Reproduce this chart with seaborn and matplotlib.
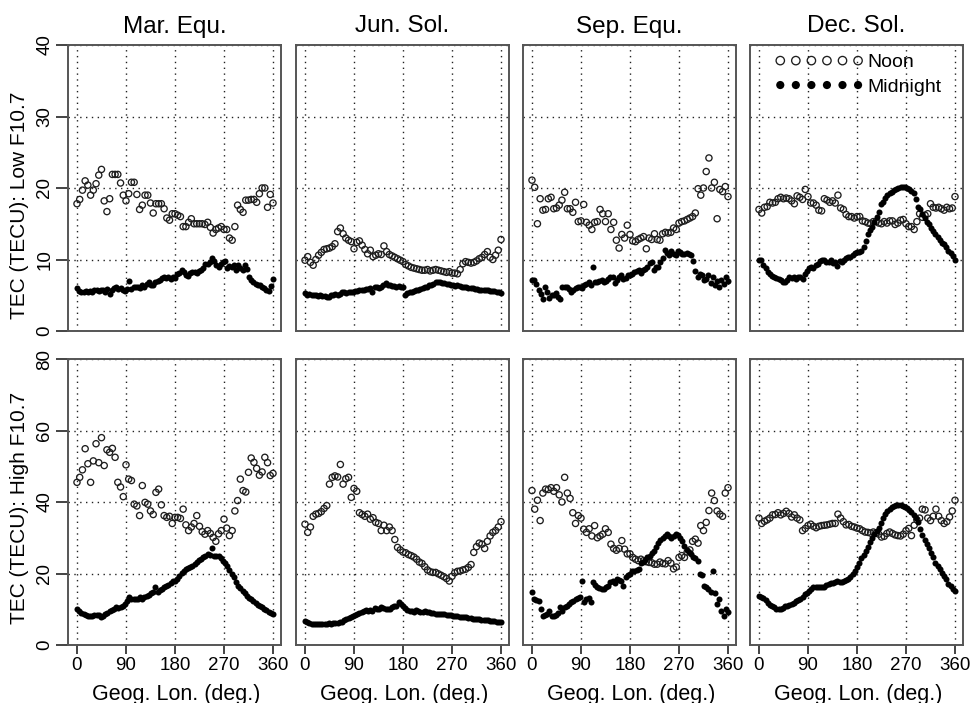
import numpy as np
import matplotlib
matplotlib.use("Agg")
import matplotlib.pyplot as plt
import seaborn as sns

# ─── DATA ────────────────────────────────────────────────────────────────────
# noon sampled every 5 deg, midnight every 4 deg of geographic longitude
NOON_LON = np.arange(0, 361, 5)
MID_LON = np.arange(0, 361, 4)

MAR_LOW_NOON = [17.8, 18.4, 19.7, 21.0, 20.4, 19.0, 19.7, 20.6, 21.8, 22.6,
                18.2, 16.7, 18.5, 21.9, 21.9, 21.9, 20.7, 19.0, 18.2, 19.2,
                20.8, 20.8, 19.1, 17.0, 17.6, 19.0, 19.0, 17.9, 16.5, 17.8,
                17.8, 17.8, 17.1, 15.8, 15.5, 16.4, 16.4, 16.2, 16.0, 14.6,
                14.6, 15.2, 15.7, 15.0, 15.0, 15.0, 15.0, 14.9, 15.2, 14.5,
                13.7, 14.2, 14.4, 14.6, 14.2, 14.2, 13.0, 12.7, 14.6, 17.6,
                17.0, 16.6, 18.3, 18.3, 18.4, 18.4, 18.0, 19.2, 20.0, 20.0,
                17.3, 19.1, 17.9]
MAR_LOW_MID = [6.0, 5.6, 5.5, 5.4, 5.6, 5.5, 5.6, 5.5, 5.7, 5.8,
               5.6, 5.8, 5.8, 5.5, 5.9, 5.2, 5.8, 6.0, 6.2, 5.9,
               6.0, 5.7, 5.6, 5.9, 7.0, 5.9, 6.2, 6.1, 6.2, 6.0,
               6.4, 6.2, 6.6, 6.9, 6.4, 6.5, 6.8, 7.0, 7.1, 7.4,
               7.5, 7.4, 7.6, 7.3, 7.6, 7.4, 8.0, 8.1, 8.5, 8.3,
               7.9, 7.7, 8.1, 8.2, 8.2, 8.1, 8.4, 8.6, 8.8, 9.4,
               9.4, 9.7, 10.2, 9.8, 9.3, 9.0, 9.4, 9.7, 9.8, 8.8,
               9.1, 9.0, 9.3, 8.6, 9.2, 8.8, 8.5, 9.3, 8.7, 7.6,
               7.1, 6.9, 6.6, 6.5, 6.4, 6.2, 6.0, 5.8, 5.6, 6.3,
               7.3]

JUN_LOW_NOON = [9.9, 10.4, 9.6, 9.2, 10.0, 10.6, 11.0, 11.4, 11.5, 11.6,
                11.8, 12.2, 13.9, 14.4, 13.6, 13.0, 12.7, 12.5, 11.5, 12.4,
                12.6, 12.0, 11.4, 10.8, 11.3, 10.4, 10.6, 10.8, 10.7, 11.9,
                11.1, 10.7, 10.5, 10.3, 10.1, 9.9, 9.7, 9.3, 9.1, 8.9,
                8.8, 8.7, 8.6, 8.5, 8.5, 8.6, 8.4, 8.5, 8.6, 8.5,
                8.4, 8.3, 8.2, 8.3, 8.1, 8.1, 8.0, 8.6, 9.4, 9.7,
                9.6, 9.5, 9.6, 9.8, 10.1, 10.3, 10.7, 11.1, 10.3, 10.0,
                10.6, 11.3, 12.8]
JUN_LOW_MID = [5.3, 5.1, 5.2, 5.0, 5.0, 5.0, 4.9, 5.0, 4.9, 4.9,
               4.7, 4.8, 5.0, 5.1, 5.2, 5.1, 5.2, 5.4, 5.4, 5.3,
               5.4, 5.5, 5.5, 5.6, 5.6, 5.7, 5.7, 5.8, 5.9, 5.9,
               6.0, 5.4, 6.1, 6.2, 6.0, 6.2, 6.5, 6.7, 6.5, 6.4,
               6.3, 6.3, 6.2, 6.3, 6.2, 6.1, 5.0, 5.3, 5.4, 5.5,
               5.6, 5.8, 5.8, 5.9, 6.0, 6.1, 6.2, 6.4, 6.5, 6.6,
               6.8, 6.9, 6.8, 6.7, 6.7, 6.6, 6.6, 6.5, 6.4, 6.3,
               6.4, 6.3, 6.2, 6.2, 6.1, 6.0, 6.0, 6.0, 5.9, 5.9,
               5.8, 5.8, 5.8, 5.7, 5.7, 5.6, 5.6, 5.6, 5.5, 5.4,
               5.3]

SEP_LOW_NOON = [21.1, 20.1, 15.0, 18.5, 16.9, 17.0, 18.5, 18.7, 17.1, 17.2,
                17.6, 18.3, 19.4, 17.1, 17.1, 16.6, 18.0, 15.3, 15.4, 17.7,
                15.2, 14.8, 14.2, 15.2, 15.3, 17.0, 16.4, 15.3, 16.4, 14.2,
                15.2, 12.7, 11.6, 13.5, 13.0, 14.8, 13.5, 12.6, 12.5, 12.8,
                13.0, 13.2, 11.5, 13.0, 12.8, 13.6, 12.8, 12.7, 13.6, 13.8,
                13.7, 13.8, 14.4, 14.2, 15.1, 15.3, 15.4, 15.6, 15.8, 16.0,
                16.5, 19.9, 19.0, 20.0, 22.3, 24.2, 20.0, 20.8, 15.7, 19.8,
                19.5, 20.2, 18.8]
SEP_LOW_MID = [7.2, 7.1, 6.6, 5.8, 5.2, 4.5, 6.1, 5.4, 4.6, 5.0,
               5.1, 5.3, 4.8, 4.5, 6.1, 6.2, 6.1, 5.9, 5.5, 5.8,
               6.0, 6.2, 6.1, 6.0, 6.4, 6.6, 6.9, 6.5, 8.9, 6.8,
               6.9, 7.0, 7.1, 6.8, 7.0, 7.3, 7.5, 7.6, 6.7, 7.2,
               7.5, 7.8, 7.3, 7.4, 7.8, 7.9, 8.0, 8.2, 8.4, 8.5,
               8.1, 8.6, 8.7, 9.0, 9.5, 9.6, 8.6, 8.9, 9.0, 9.6,
               10.2, 11.3, 10.9, 10.6, 11.2, 10.7, 10.6, 11.2, 11.0, 10.8,
               10.8, 10.9, 10.7, 10.6, 9.8, 8.4, 7.6, 8.0, 7.8, 7.1,
               7.3, 7.9, 6.7, 7.5, 6.4, 7.0, 6.2, 7.2, 6.6, 7.5,
               7.0]

DEC_LOW_NOON = [17.0, 16.5, 17.3, 17.4, 18.0, 17.9, 18.0, 18.5, 18.7, 18.5,
                18.6, 18.5, 18.2, 17.8, 18.9, 18.7, 18.4, 19.8, 18.8, 17.9,
                17.9, 17.6, 16.9, 16.8, 18.5, 18.3, 18.0, 18.2, 17.9, 19.0,
                17.2, 17.0, 16.3, 16.0, 16.0, 15.8, 16.0, 16.0, 15.4, 15.3,
                15.1, 15.0, 15.3, 15.3, 15.1, 15.0, 15.3, 15.1, 15.4, 15.4,
                14.9, 15.1, 15.5, 15.6, 15.0, 14.6, 14.6, 14.2, 15.3, 16.4,
                15.9, 16.2, 16.4, 17.8, 17.3, 17.2, 17.3, 17.1, 16.9, 17.3,
                17.1, 17.2, 18.8]
DEC_LOW_MID = [10.0, 9.9, 9.2, 8.8, 8.3, 8.0, 7.7, 7.5, 7.4, 7.3,
               7.1, 6.9, 6.8, 7.2, 7.5, 7.4, 7.5, 7.3, 7.6, 7.5,
               7.3, 8.0, 8.4, 8.8, 9.0, 8.8, 9.2, 9.4, 9.8, 9.9,
               9.9, 9.6, 9.7, 9.9, 9.5, 9.7, 9.1, 9.8, 9.7, 9.9,
               10.2, 10.3, 10.4, 10.6, 10.9, 11.0, 11.0, 11.2, 11.8, 12.6,
               13.6, 14.1, 14.6, 15.3, 15.9, 16.6, 17.7, 18.1, 18.6, 19.0,
               19.3, 19.5, 19.7, 19.9, 20.0, 20.1, 20.1, 20.1, 20.0, 19.9,
               19.6, 19.3, 18.5, 17.3, 17.0, 16.4, 15.8, 15.2, 14.9, 14.4,
               14.0, 13.5, 13.1, 12.7, 12.3, 12.2, 11.8, 11.2, 10.9, 10.5,
               9.9]

MAR_HIGH_NOON = [45.5, 46.9, 49.0, 54.9, 50.7, 45.5, 51.5, 56.3, 51.0, 58.0,
                 50.2, 54.6, 53.9, 55.0, 52.5, 45.5, 44.2, 41.5, 50.4, 46.4,
                 46.0, 39.4, 38.9, 36.2, 44.6, 39.9, 39.4, 37.5, 36.5, 42.7,
                 43.6, 39.2, 36.2, 35.7, 36.0, 34.0, 35.7, 35.7, 35.4, 38.0,
                 33.6, 32.0, 33.0, 34.0, 36.2, 33.2, 31.7, 31.0, 32.0, 31.2,
                 30.1, 29.0, 31.1, 32.0, 35.2, 32.7, 30.6, 32.0, 37.5, 40.4,
                 46.4, 43.2, 42.8, 48.3, 52.3, 51.1, 49.4, 47.5, 48.4, 52.5,
                 51.0, 47.4, 48.0]
MAR_HIGH_MID = [10.0, 9.4, 9.0, 8.6, 8.4, 8.2, 8.1, 8.2, 8.3, 8.3,
                8.5, 7.8, 8.2, 8.6, 9.0, 9.4, 9.8, 10.1, 10.5, 10.4,
                10.6, 10.8, 11.4, 12.2, 13.3, 12.9, 12.9, 12.8, 13.0, 13.3,
                12.9, 13.4, 13.7, 14.0, 14.5, 14.7, 16.3, 14.8, 15.5, 15.8,
                16.2, 16.6, 16.9, 17.3, 17.9, 18.0, 18.5, 19.2, 20.2, 20.8,
                21.2, 21.5, 21.8, 22.2, 22.6, 23.1, 23.7, 24.0, 24.5, 25.0,
                25.4, 25.3, 27.0, 24.8, 25.0, 24.8, 24.3, 23.5, 23.0, 22.2,
                21.0, 19.8, 18.9, 17.5, 16.6, 15.9, 15.2, 14.5, 13.6, 13.2,
                12.9, 12.4, 11.8, 11.2, 10.9, 10.5, 10.1, 9.8, 9.3, 9.0,
                8.6]

JUN_HIGH_NOON = [33.8, 31.5, 33.0, 36.0, 36.6, 36.8, 37.3, 38.2, 39.0, 45.0,
                 46.9, 47.3, 47.0, 50.5, 45.0, 46.5, 46.9, 41.3, 43.8, 43.0,
                 37.0, 36.5, 36.0, 36.6, 35.2, 35.6, 34.3, 34.0, 32.0, 33.5,
                 32.0, 33.0, 32.0, 29.5, 27.3, 26.6, 26.0, 25.8, 25.3, 25.0,
                 24.6, 24.0, 23.2, 22.8, 21.9, 21.0, 20.5, 20.3, 20.3, 19.9,
                 19.5, 19.1, 18.6, 17.9, 19.2, 20.2, 20.6, 20.7, 21.0, 21.2,
                 21.7, 22.5, 25.9, 27.5, 28.5, 28.2, 27.0, 29.0, 30.5, 31.5,
                 32.0, 33.0, 34.5]
JUN_HIGH_MID = [6.7, 6.3, 6.1, 6.0, 6.0, 6.0, 5.9, 6.0, 6.0, 5.9,
                6.0, 6.1, 6.0, 6.1, 6.2, 6.1, 6.3, 6.4, 7.0, 7.2,
                7.5, 7.8, 8.1, 8.3, 8.8, 9.0, 9.3, 9.5, 9.7, 9.6,
                9.7, 9.5, 10.3, 10.2, 10.2, 10.5, 10.4, 10.0, 10.2, 10.1,
                10.5, 10.8, 11.0, 11.9, 11.5, 11.0, 10.3, 9.8, 9.6, 9.6,
                9.2, 9.9, 9.5, 9.1, 9.3, 9.4, 9.1, 9.2, 9.0, 9.0,
                8.8, 8.7, 8.7, 8.8, 8.6, 8.5, 8.4, 8.3, 8.2, 8.2,
                8.0, 7.9, 7.8, 7.7, 7.7, 7.6, 7.5, 7.4, 7.3, 7.2,
                7.2, 7.1, 7.0, 6.9, 6.9, 6.8, 6.7, 6.6, 6.5, 6.4,
                6.3]

SEP_HIGH_NOON = [43.2, 38.0, 40.5, 34.8, 42.5, 43.6, 43.5, 44.0, 43.0, 44.0,
                 42.0, 40.0, 46.9, 42.5, 41.0, 37.0, 34.0, 36.2, 35.5, 32.4,
                 31.5, 32.5, 30.5, 33.4, 30.0, 30.5, 31.0, 32.5, 31.5, 28.2,
                 27.0, 26.5, 27.0, 29.2, 26.8, 25.5, 25.5, 24.5, 24.0, 23.6,
                 24.0, 23.6, 23.3, 23.1, 23.0, 22.6, 22.6, 23.2, 22.8, 22.7,
                 23.6, 22.9, 21.3, 21.8, 24.5, 25.0, 24.5, 26.0, 26.6, 29.0,
                 29.6, 28.5, 33.4, 32.0, 34.3, 37.6, 42.5, 40.4, 37.5, 36.6,
                 36.0, 42.5, 44.0]
SEP_HIGH_MID = [14.7, 13.0, 12.6, 12.2, 10.0, 8.2, 8.5, 8.6, 9.5, 8.2,
                8.2, 8.5, 9.0, 10.5, 9.5, 10.6, 11.0, 11.4, 12.0, 12.4,
                12.8, 13.2, 13.5, 17.9, 12.0, 13.0, 13.2, 12.0, 17.5, 16.9,
                16.3, 16.0, 15.6, 15.7, 16.2, 16.6, 17.6, 17.8, 17.4, 18.5,
                18.2, 17.9, 16.5, 19.0, 19.5, 20.0, 20.6, 20.8, 21.0, 21.3,
                23.0, 23.3, 23.8, 24.5, 25.0, 25.8, 26.2, 27.5, 28.6, 29.5,
                30.0, 30.6, 31.0, 30.6, 29.8, 30.5, 31.0, 30.9, 30.0, 29.2,
                27.8, 26.6, 25.9, 25.4, 24.6, 24.4, 23.6, 19.8, 19.5, 16.5,
                16.3, 15.8, 14.8, 20.7, 14.5, 11.4, 13.0, 9.5, 8.0, 10.0,
                9.2]

DEC_HIGH_NOON = [35.5, 34.0, 34.6, 35.0, 35.5, 36.4, 36.5, 37.0, 36.4, 36.8,
                 37.4, 36.8, 35.8, 36.4, 35.5, 35.0, 32.0, 32.6, 33.4, 33.8,
                 33.2, 32.8, 33.2, 33.4, 33.5, 33.6, 33.8, 34.0, 34.0, 36.6,
                 35.5, 34.5, 33.6, 33.7, 33.2, 33.0, 32.7, 32.5, 32.0, 31.6,
                 31.5, 31.3, 31.6, 31.3, 31.0, 30.2, 30.4, 31.2, 31.6, 31.2,
                 30.8, 30.6, 30.5, 31.0, 32.0, 32.6, 30.6, 33.5, 35.0, 35.5,
                 38.0, 37.8, 35.5, 34.8, 36.0, 38.0, 36.0, 34.8, 34.0, 34.5,
                 35.8, 37.5, 40.5]
DEC_HIGH_MID = [13.7, 13.4, 13.1, 12.5, 11.8, 11.2, 10.8, 10.5, 10.2, 10.0,
                10.2, 10.4, 10.8, 10.9, 11.1, 11.4, 11.8, 12.3, 12.6, 12.9,
                13.3, 14.2, 14.6, 15.1, 15.6, 16.1, 16.3, 16.3, 16.1, 16.2,
                16.3, 16.7, 17.0, 17.4, 17.4, 17.6, 17.8, 17.6, 17.7, 17.8,
                18.1, 18.6, 19.1, 20.0, 20.7, 21.8, 23.0, 24.2, 25.2, 26.3,
                27.5, 28.8, 29.8, 31.0, 31.8, 32.8, 34.0, 35.6, 36.7, 37.4,
                38.0, 38.6, 39.0, 39.2, 39.3, 39.1, 38.8, 38.6, 38.3, 37.8,
                37.1, 36.3, 35.6, 34.3, 32.5, 30.9, 29.4, 28.3, 27.2, 25.6,
                24.5, 23.0, 22.0, 21.3, 20.2, 19.3, 18.4, 17.0, 16.5, 15.7,
                15.0]

SEASONS = ["Mar. Equ.", "Jun. Sol.", "Sep. Equ.", "Dec. Sol."]
ROW_LABELS = ["TEC (TECU): Low F10.7", "TEC (TECU): High F10.7"]
X_TICKS = [0, 90, 180, 270, 360]
Y_TICKS = [[0, 10, 20, 30, 40], [0, 20, 40, 60, 80]]

PANELS = [
    [(MAR_LOW_NOON, MAR_LOW_MID), (JUN_LOW_NOON, JUN_LOW_MID),
     (SEP_LOW_NOON, SEP_LOW_MID), (DEC_LOW_NOON, DEC_LOW_MID)],
    [(MAR_HIGH_NOON, MAR_HIGH_MID), (JUN_HIGH_NOON, JUN_HIGH_MID),
     (SEP_HIGH_NOON, SEP_HIGH_MID), (DEC_HIGH_NOON, DEC_HIGH_MID)],
]

# ─── STYLE ───────────────────────────────────────────────────────────────────
sns.set_style("white")
plt.rcParams.update({
    "font.family": ["Liberation Sans", "DejaVu Sans"],
    "text.color": "black",
    "axes.labelcolor": "black",
    "xtick.color": "black",
    "ytick.color": "black",
})

FRAME = "#555555"
GRID_KW = dict(color="#222222", linestyle=(0, (1, 3.2)), linewidth=1.0)

W, H = 972, 703
COL_LEFT = [68, 296, 523, 750]   # pixel position of each frame
ROW_TOP = [45, 359]
AX_W, AX_H = 213, 286
YLABEL_Y = [0.44, 0.48]

fig = plt.figure(figsize=(W / 100, H / 100), dpi=100)

for r in range(2):
    for c in range(4):
        ax = fig.add_axes([COL_LEFT[c] / W, 1 - (ROW_TOP[r] + AX_H) / H,
                           AX_W / W, AX_H / H])
        noon, mid = PANELS[r][c]

        sns.scatterplot(x=NOON_LON, y=noon, ax=ax, marker="o", s=20,
                        facecolors="none", edgecolor="#1e1e1e",
                        linewidth=0.95, legend=False, label="Noon", zorder=3)
        sns.scatterplot(x=MID_LON, y=mid, ax=ax, marker="o", s=19,
                        color="black", linewidth=0, legend=False,
                        label="Midnight", zorder=4)

        ax.set_xlim(-16.5, 374.7)
        ax.set_ylim(Y_TICKS[r][0], Y_TICKS[r][-1])
        ax.set_xticks(X_TICKS)
        ax.set_yticks(Y_TICKS[r])
        ax.grid(True, **GRID_KW)
        ax.set_axisbelow(True)
        for sp in ax.spines.values():
            sp.set_color(FRAME)
            sp.set_linewidth(1.4)

        ax.tick_params(axis="x", direction="out", length=6.5, width=1.1,
                       pad=2, labelsize=13.5, color="#111111",
                       bottom=(r == 1), labelbottom=(r == 1))
        ax.tick_params(axis="y", direction="out", length=8.5, width=1.1,
                       pad=2, labelsize=13.5, color="#111111",
                       left=(c == 0), labelleft=(c == 0))
        plt.setp(ax.get_yticklabels(), rotation=90, va="center")

        ax.set_xlabel("")
        ax.set_ylabel("")
        if r == 0:
            ax.set_title(SEASONS[c], fontsize=17.5, pad=9)
        else:
            ax.set_xlabel("Geog. Lon. (deg.)", fontsize=15.5)
            ax.xaxis.set_label_coords(0.51, -0.135)
        if c == 0:
            ax.set_ylabel(ROW_LABELS[r], fontsize=15)
            ax.yaxis.set_label_coords(-0.185, YLABEL_Y[r])

        if r == 0 and c == 3:
            ax.legend(handles=ax.collections[:2], labels=["Noon", "Midnight"],
                      scatterpoints=6, scatteryoffsets=[0.5], markerscale=1.35,
                      frameon=False, loc="upper left",
                      bbox_to_anchor=(0.06, 1.01), handlelength=4.6,
                      handletextpad=0.2, labelspacing=0.35, fontsize=14,
                      borderaxespad=0.2)

fig.savefig("out.png", dpi=100)
plt.close(fig)
